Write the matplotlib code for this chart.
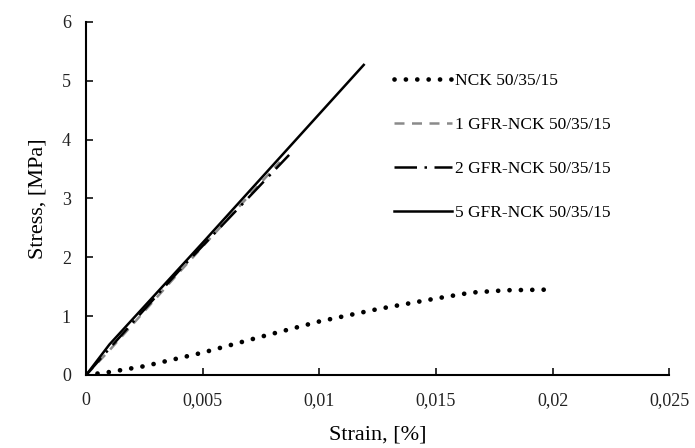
import matplotlib.pyplot as plt
import matplotlib.ticker as mticker

plt.rcParams['font.family'] = ['Liberation Serif', 'DejaVu Serif']

# NCK 50/35/15 (dotted)
strain_nck = [0, 0.001, 0.0025, 0.005, 0.0075, 0.01, 0.0125, 0.015, 0.0165, 0.018, 0.0197]
stress_nck = [0, 0.05, 0.15, 0.38, 0.65, 0.91, 1.12, 1.30, 1.40, 1.44, 1.45]

# 1 GFR-NCK 50/35/15 (grey dashed)
strain_1 = [0, 0.001, 0.004, 0.0083]
stress_1 = [0, 0.42, 1.75, 3.62]

# 2 GFR-NCK 50/35/15 (dash-dot)
strain_2 = [0, 0.001, 0.004, 0.0087]
stress_2 = [0, 0.45, 1.78, 3.74]

# 5 GFR-NCK 50/35/15 (solid)
strain_5 = [0, 0.001, 0.005, 0.0119]
stress_5 = [0, 0.52, 2.25, 5.27]

labels = ['NCK 50/35/15', '1 GFR-NCK 50/35/15', '2 GFR-NCK 50/35/15', '5 GFR-NCK 50/35/15']
x_ticks = [0, 0.005, 0.01, 0.015, 0.02, 0.025]
x_tick_labels = ['0', '0,005', '0,01', '0,015', '0,02', '0,025']
y_ticks = [0, 1, 2, 3, 4, 5, 6]

fig = plt.figure(figsize=(6.95, 4.48), dpi=100)
ax = fig.add_axes([0.124, 0.163, 0.839, 0.788])

ax.plot(strain_nck, stress_nck, color='black', linewidth=3.4,
        linestyle=(0, (0.01, 2.4)), dash_capstyle='round', label=labels[0])
ax.plot(strain_1, stress_1, color='#8a8a8a', linewidth=1.8,
        linestyle=(0, (4, 3)), label=labels[1])
ax.plot(strain_2, stress_2, color='black', linewidth=1.8,
        linestyle=(0, (9, 3, 1, 3)), label=labels[2])
ax.plot(strain_5, stress_5, color='black', linewidth=1.8, label=labels[3])

ax.set_xlim(0, 0.025)
ax.set_ylim(0, 6)
ax.set_xticks(x_ticks)
ax.xaxis.set_major_formatter(mticker.FixedFormatter(x_tick_labels))
ax.set_yticks(y_ticks)

ax.spines['top'].set_visible(False)
ax.spines['right'].set_visible(False)
ax.spines['left'].set_linewidth(1.5)
ax.spines['bottom'].set_linewidth(1.5)
ax.tick_params(direction='in', length=5, width=1.3, labelsize=13, colors='#222222')
ax.tick_params(axis='x', pad=12)
ax.tick_params(axis='y', pad=11)

ax.set_xlabel('Strain, [%]', fontsize=16, labelpad=12)
ax.set_ylabel('Stress, [MPa]', fontsize=16, labelpad=10)

ax.legend(loc='upper left', bbox_to_anchor=(0.545, 0.872), bbox_transform=fig.transFigure,
          frameon=False, fontsize=12.5, handlelength=3.3, handletextpad=0.2,
          labelspacing=1.6)

fig.savefig('out.png', dpi=100)
